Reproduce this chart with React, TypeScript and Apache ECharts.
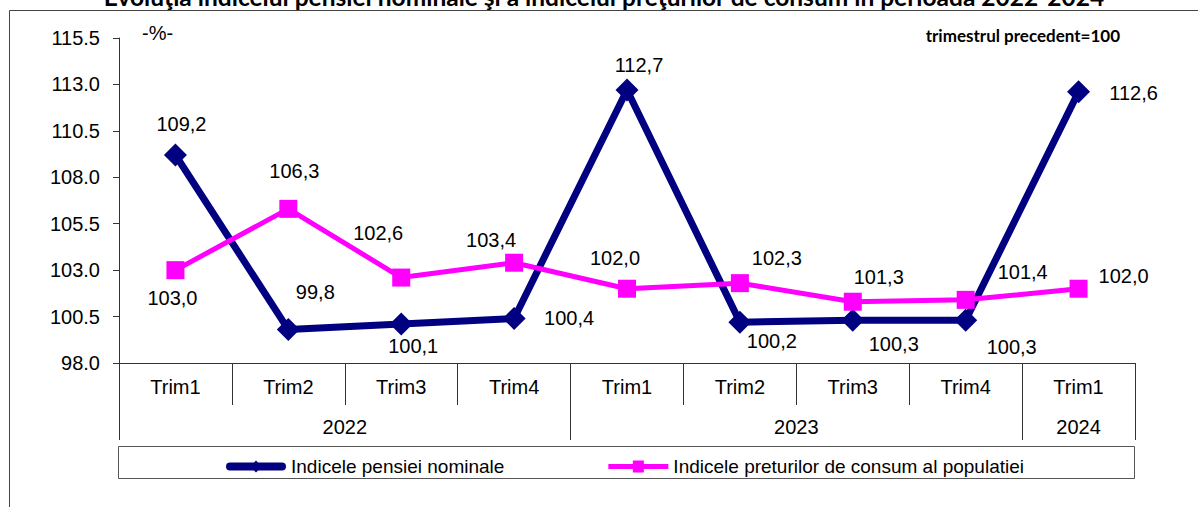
import React, { useEffect, useRef } from "react";
import * as echarts from "echarts";

const TITLE = "Evoluţia indicelui pensiei nominale şi a indicelui preţurilor de consum în perioada 2022-2024";
const NOTE = "trimestrul precedent=100";
const UNIT = "-%-";
const CATEGORIES = ["Trim1", "Trim2", "Trim3", "Trim4", "Trim1", "Trim2", "Trim3", "Trim4", "Trim1"];
const YEARS = ["2022", "2023", "2024"];
const YEAR_QUARTERS = [4, 4, 1];
const Y_TICKS = [98.0, 100.5, 103.0, 105.5, 108.0, 110.5, 113.0, 115.5];
const SERIES_NAMES = ["Indicele pensiei nominale", "Indicele preturilor de consum al populatiei"];
const PENSION = [109.2, 99.8, 100.1, 100.4, 112.7, 100.2, 100.3, 100.3, 112.6];
const CPI = [103.0, 106.3, 102.6, 103.4, 102.0, 102.3, 101.3, 101.4, 102.0];

// label placement (offsets from marker centre, px)
const PENSION_LABEL_OFFSET = [[6, -31], [27, -38], [12, 22], [55, 0], [12, -25], [32, 19], [41, 24], [46, 27], [55, 1]];
const CPI_LABEL_OFFSET = [[-3, 28], [6, -38], [-23, -45], [-23, -23], [-12, -31], [37, -25], [26, -25], [57, -28], [45, -13]];

// legend icons (60 x 12 box)
const ICON_PENSION = "path://M4,2 L56,2 A4,4 0 0 1 56,10 L4,10 A4,4 0 0 1 4,2 Z M30,0 L36,6 L30,12 L24,6 Z";
const ICON_CPI = "path://M0,3.5 L60,3.5 L60,8.5 L0,8.5 Z M24.5,0 L35.5,0 L35.5,12 L24.5,12 Z";

const FONT = "Liberation Sans, Arial, sans-serif";

export default function App() {
  const ref = useRef<HTMLDivElement>(null);
  useEffect(() => {
    if (!ref.current) return;
    const chart = echarts.init(ref.current, undefined, { renderer: "svg" });
    const yearBounds: number[] = [0];
    YEAR_QUARTERS.forEach((q) => yearBounds.push(yearBounds[yearBounds.length - 1] + q));
    const yearCenters = YEAR_QUARTERS.map((q, i) => yearBounds[i] + q / 2);
    const fmt = (v: number) => v.toFixed(1).replace(".", ",");
    const labelStyle = { show: true, position: "inside", color: "#000", fontFamily: FONT, fontSize: 20 };

    chart.setOption({
      animation: false,
      backgroundColor: "#fff",
      grid: { left: 119, right: 63, top: 38, bottom: 144, containLabel: false },
      xAxis: [
        {
          type: "category",
          data: CATEGORIES,
          position: "bottom",
          boundaryGap: true,
          axisLine: { show: true, lineStyle: { color: "#333", width: 1 } },
          axisTick: { show: true, interval: 0, length: 42, lineStyle: { color: "#333" } },
          axisLabel: { interval: 0, margin: 14, color: "#000", fontFamily: FONT, fontSize: 20 },
        },
        {
          type: "value",
          position: "bottom",
          min: 0,
          max: CATEGORIES.length,
          axisLine: { show: false },
          splitLine: { show: false },
          axisTick: { show: true, customValues: yearBounds, length: 77, lineStyle: { color: "#333" } },
          axisLabel: {
            customValues: yearCenters,
            margin: 54,
            color: "#000",
            fontFamily: FONT,
            fontSize: 20,
            formatter: (v: number) => {
              const i = yearCenters.findIndex((c) => Math.abs(c - v) < 1e-6);
              return i >= 0 ? YEARS[i] : "";
            },
          },
        },
      ],
      yAxis: {
        type: "value",
        min: Y_TICKS[0],
        max: Y_TICKS[Y_TICKS.length - 1],
        axisLine: { show: true, lineStyle: { color: "#333", width: 1 } },
        axisTick: { show: true, customValues: Y_TICKS, length: 6, lineStyle: { color: "#333" } },
        axisLabel: {
          customValues: Y_TICKS,
          margin: 19,
          color: "#000",
          fontFamily: FONT,
          fontSize: 20,
          formatter: (v: number) => v.toFixed(1),
        },
        splitLine: { show: false },
      },
      legend: {
        left: 221,
        top: 452,
        itemWidth: 60,
        itemHeight: 12,
        itemGap: 104,
        textStyle: { color: "#000", fontFamily: FONT, fontSize: 19 },
        data: [
          { name: SERIES_NAMES[0], icon: ICON_PENSION },
          { name: SERIES_NAMES[1], icon: ICON_CPI },
        ],
      },
      graphic: [
        {
          type: "rect",
          shape: { x: 9.5, y: 10.5, width: 1300, height: 600 },
          style: { fill: "none", stroke: "#444", lineWidth: 1 },
          silent: true,
        },
        {
          type: "rect",
          shape: { x: 118.5, y: 446.5, width: 1016, height: 32 },
          style: { fill: "none", stroke: "#555", lineWidth: 1 },
          silent: true,
        },
        {
          type: "text",
          x: 604,
          y: -4,
          style: { text: TITLE, fill: "#000", font: "bold 24.5px Lato, sans-serif", align: "center", verticalAlign: "middle" },
        },
        {
          type: "text",
          x: 1120,
          y: 35,
          style: { text: NOTE, fill: "#000", font: "bold 17px Lato, sans-serif", align: "right", verticalAlign: "middle" },
        },
        {
          type: "text",
          x: 142,
          y: 33,
          style: { text: UNIT, fill: "#000", font: "20px " + FONT, align: "left", verticalAlign: "middle" },
        },
      ],
      series: [
        {
          name: SERIES_NAMES[0],
          type: "line",
          xAxisIndex: 0,
          data: PENSION.map((v, i) => ({ value: v, label: { offset: PENSION_LABEL_OFFSET[i] } })),
          symbol: "diamond",
          symbolSize: 23,
          lineStyle: { color: "#000080", width: 7 },
          itemStyle: { color: "#000080" },
          label: { ...labelStyle, formatter: (p: any) => fmt(p.value) },
          z: 2,
        },
        {
          name: SERIES_NAMES[1],
          type: "line",
          xAxisIndex: 0,
          data: CPI.map((v, i) => ({ value: v, label: { offset: CPI_LABEL_OFFSET[i] } })),
          symbol: "rect",
          symbolSize: 18,
          lineStyle: { color: "#FF00FF", width: 5 },
          itemStyle: { color: "#FF00FF" },
          label: { ...labelStyle, formatter: (p: any) => fmt(p.value) },
          z: 3,
        },
      ],
    });
    return () => chart.dispose();
  }, []);

  return (
    <div
      ref={ref}
      style={{ position: "fixed", left: 0, top: 0, width: 1198, height: 507 }}
    />
  );
}
